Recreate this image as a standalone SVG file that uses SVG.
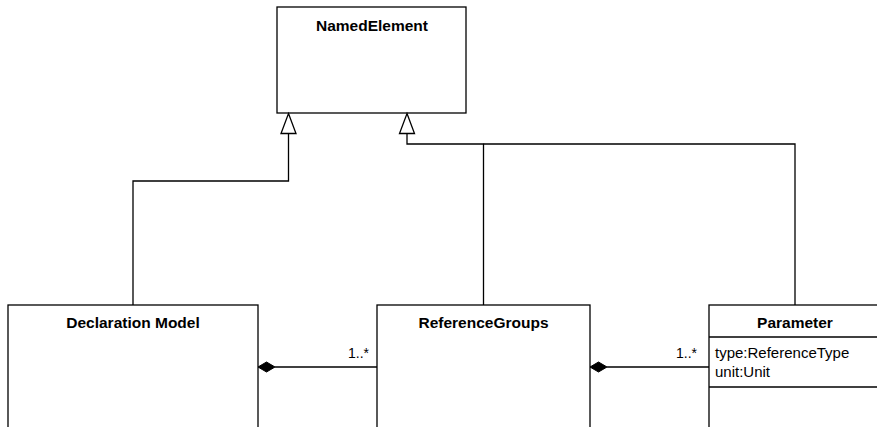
<svg xmlns="http://www.w3.org/2000/svg" width="877" height="427" viewBox="0 0 877 427">
  <style>
    .box { fill: #ffffff; stroke: #000000; stroke-width: 1.3; }
    .sep { stroke: #000000; stroke-width: 1.3; }
    .title { font-family: "Liberation Sans", Arial, sans-serif; font-weight: bold; font-size: 15.5px; text-anchor: middle; fill: #000000; }
    .attr { font-family: "Liberation Sans", Arial, sans-serif; font-size: 15px; fill: #000000; }
    .mult { font-family: "Liberation Sans", Arial, sans-serif; font-size: 14px; text-anchor: end; fill: #000000; }
    .edge { fill: none; stroke: #000000; stroke-width: 1.3; }
    .hollow { fill: #ffffff; stroke: #000000; stroke-width: 1.3; stroke-linejoin: miter; }
    .solid { fill: #000000; stroke: #000000; stroke-width: 1; }
  </style>
  <defs>
    <!-- hollow triangle for generalization, tip at origin pointing up -->
    <path id="generalization" class="hollow" d="M0,0 L7.5,20 L-7.5,20 Z"/>
    <!-- filled diamond for composition, left point at origin -->
    <path id="composition" class="solid" d="M0,0 L8.5,-5 L17,0 L8.5,5 Z"/>
  </defs>
  <rect width="877" height="427" fill="#ffffff"/>

  <g id="NamedElement">
    <rect class="box" x="277" y="7" width="189" height="106"/>
    <text class="title" x="372" y="31">NamedElement</text>
  </g>

  <g id="DeclarationModel">
    <rect class="box" x="8" y="305" width="250" height="140"/>
    <text class="title" x="133" y="328">Declaration Model</text>
  </g>

  <g id="ReferenceGroups">
    <rect class="box" x="377" y="305" width="213" height="140"/>
    <text class="title" x="483.5" y="328">ReferenceGroups</text>
  </g>

  <g id="Parameter">
    <rect class="box" x="709" y="305" width="190" height="140"/>
    <text class="title" x="795" y="328">Parameter</text>
    <line class="sep" x1="709" y1="337" x2="899" y2="337"/>
    <text class="attr" x="715" y="358">type:ReferenceType</text>
    <text class="attr" x="715" y="377">unit:Unit</text>
    <line class="sep" x1="709" y1="387" x2="899" y2="387"/>
  </g>

  <g id="connectors">
    <!-- generalizations to NamedElement -->
    <path class="edge" d="M133,305 V181 H288.5 V133"/>
    <use href="#generalization" x="288.5" y="113.5"/>
    <path class="edge" d="M483.5,305 V144 H407 V133"/>
    <path class="edge" d="M795,305 V144 H483.5"/>
    <use href="#generalization" x="407" y="113.5"/>
    <!-- compositions -->
    <path class="edge" d="M377,367 H275"/>
    <use href="#composition" x="258" y="367"/>
    <text class="mult" x="369" y="358">1..*</text>
    <path class="edge" d="M709,367 H607"/>
    <use href="#composition" x="590" y="367"/>
    <text class="mult" x="697" y="358">1..*</text>
  </g>
</svg>
